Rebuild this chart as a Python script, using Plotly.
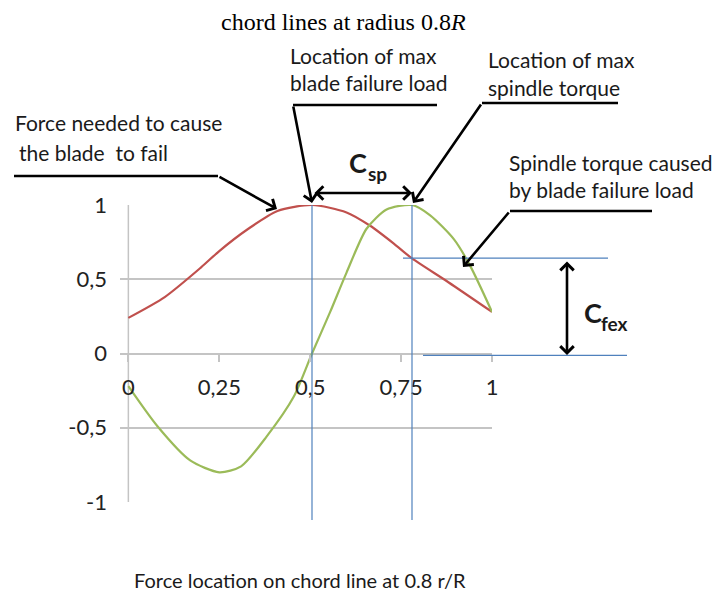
import plotly.graph_objects as go

# chord position (fraction of chord) and normalised values
x_failure = [0, 0.1, 0.2, 0.25, 0.33, 0.41, 0.505, 0.6, 0.665, 0.73, 0.78, 0.88, 1.0]
y_failure = [0.24, 0.38, 0.58, 0.69, 0.84, 0.96, 1.0, 0.95, 0.86, 0.74, 0.64, 0.48, 0.28]

x_torque = [0, 0.08, 0.17, 0.25, 0.31, 0.38, 0.455, 0.505, 0.555, 0.6, 0.655, 0.71, 0.78, 0.83, 0.895, 0.94, 1.0]
y_torque = [-0.22, -0.49, -0.72, -0.80, -0.76, -0.56, -0.29, 0.0, 0.28, 0.545, 0.84, 0.97, 1.0, 0.93, 0.77, 0.59, 0.28]

x_ticks = [0, 0.25, 0.5, 0.75, 1]
x_ticklabels = ['0', '0,25', '0,5', '0,75', '1']
y_ticks = [-1, -0.5, 0, 0.5, 1]
y_ticklabels = ['-1', '-0,5', '0', '0,5', '1']

cfex_top = 0.642
cfex_bottom = -0.012

# plot area in pixels (used for placing the callouts)
L, R, T, B = 120, 492, 205, 502


def px(p):
    return (p - L) / (R - L)


def py(p):
    return (B - p) / (B - T)


FONT = 'Lato, Open Sans, sans-serif'
GRID = '#C4C4C4'

fig = go.Figure()

fig.add_trace(go.Scatter(
    x=x_failure, y=y_failure, mode='lines', line=dict(color='#C0504D', width=2.2, shape='spline', smoothing=0.7),
    name='Blade failure load'
))
fig.add_trace(go.Scatter(
    x=x_torque, y=y_torque, mode='lines', line=dict(color='#9BBB59', width=2.2, shape='spline', smoothing=0.7),
    name='Spindle torque'
))

x_max_fail = x_failure[y_failure.index(max(y_failure))]
x_max_torque = x_torque[y_torque.index(max(y_torque))]

shapes = []
# vertical axis line at x = 0
shapes.append(dict(type='line', xref='x', yref='y', x0=0, x1=0, y0=-1, y1=1,
                   line=dict(color=GRID, width=1.5), layer='below'))
# blue marker lines
for xv in [x_max_fail, x_max_torque]:
    shapes.append(dict(type='line', xref='x', yref='paper', x0=xv, x1=xv, y0=1, y1=py(520),
                       line=dict(color='#4F81BD', width=1.2)))
shapes.append(dict(type='line', xref='paper', yref='y', x0=px(403), x1=px(608), y0=cfex_top, y1=cfex_top,
                   line=dict(color='#4F81BD', width=1.2)))
shapes.append(dict(type='line', xref='paper', yref='y', x0=px(423), x1=px(627), y0=cfex_bottom, y1=cfex_bottom,
                   line=dict(color='#4F81BD', width=1.2)))

# callout underlines
for (xa, xb, yv) in [(14, 218, 176), (293, 437, 105), (482, 618, 103), (510, 652, 211)]:
    shapes.append(dict(type='line', xref='paper', yref='paper', x0=px(xa), x1=px(xb), y0=py(yv), y1=py(yv),
                       line=dict(color='black', width=2.6)))

annotations = []


def text(t, x, y, size=21, anchor='left', family=FONT, color='#1a1a1a'):
    annotations.append(dict(text=t, x=px(x), y=py(y), xref='paper', yref='paper', showarrow=False,
                            xanchor=anchor, yanchor='middle', font=dict(family=family, size=size, color=color)))


def arrow(tail, tip, both=False):
    annotations.append(dict(text='', x=px(tip[0]), y=py(tip[1]), xref='paper', yref='paper',
                            axref='pixel', ayref='pixel', ax=tail[0] - tip[0], ay=tail[1] - tip[1],
                            showarrow=True, arrowhead=4, startarrowhead=4, arrowsize=1.0, startarrowsize=1.0,
                            arrowwidth=2.6, arrowcolor='black', arrowside='end+start' if both else 'end'))


text('chord lines at radius 0.8<i>R</i>', 343, 22, size=24, anchor='center',
     family='Liberation Serif, Times New Roman, serif', color='black')

text('Force needed to cause', 13, 123)
text('the blade  to fail', 17, 152)
arrow((218, 176), (277, 209))

text('Location of max', 288, 55)
text('blade failure load', 288, 82)
arrow((293, 105), (312, 203))

text('Location of max', 486, 59)
text('spindle torque', 486, 87)
arrow((482, 103), (413, 203))

text('Spindle torque caused', 507, 162)
text('by blade failure load', 507, 190)
arrow((510, 211), (463, 267))

arrow((313, 193), (412, 193), both=True)
text('<b>C</b>', 347, 162, size=27)
text('<b>sp</b>', 366, 173, size=19)

arrow((567, 260), (567, 355), both=True)
text('<b>C</b>', 582, 312, size=27)
text('<b>fex</b>', 599, 323, size=19)

text('Force location on chord line at 0.8 r/R', 300, 580, size=20, anchor='center')

fig.update_layout(
    width=718, height=594,
    margin=dict(l=L, r=718 - R, t=T, b=594 - B),
    paper_bgcolor='white', plot_bgcolor='white',
    showlegend=False,
    shapes=shapes,
    annotations=annotations,
    xaxis=dict(range=[-0.023, 1.0], tickvals=x_ticks, ticktext=x_ticklabels, showgrid=False, zeroline=False,
               showline=False, anchor='free', position=0.5, ticks='outside', ticklen=7, tickwidth=1.5,
               tickcolor=GRID, ticklabelstandoff=7, tickfont=dict(family=FONT, size=22, color='#222')),
    yaxis=dict(range=[-1, 1], tickvals=y_ticks, ticktext=y_ticklabels, showgrid=True, gridcolor=GRID,
               gridwidth=1.5, zeroline=False, showline=False, ticks='', ticklabelstandoff=12,
               tickfont=dict(family=FONT, size=22, color='#222')),
)

# page body has a default 8px margin; drop it so the figure fills the window
fig.write_html('out.html', config={'displayModeBar': False},
               post_script="document.body.style.margin='0';")
